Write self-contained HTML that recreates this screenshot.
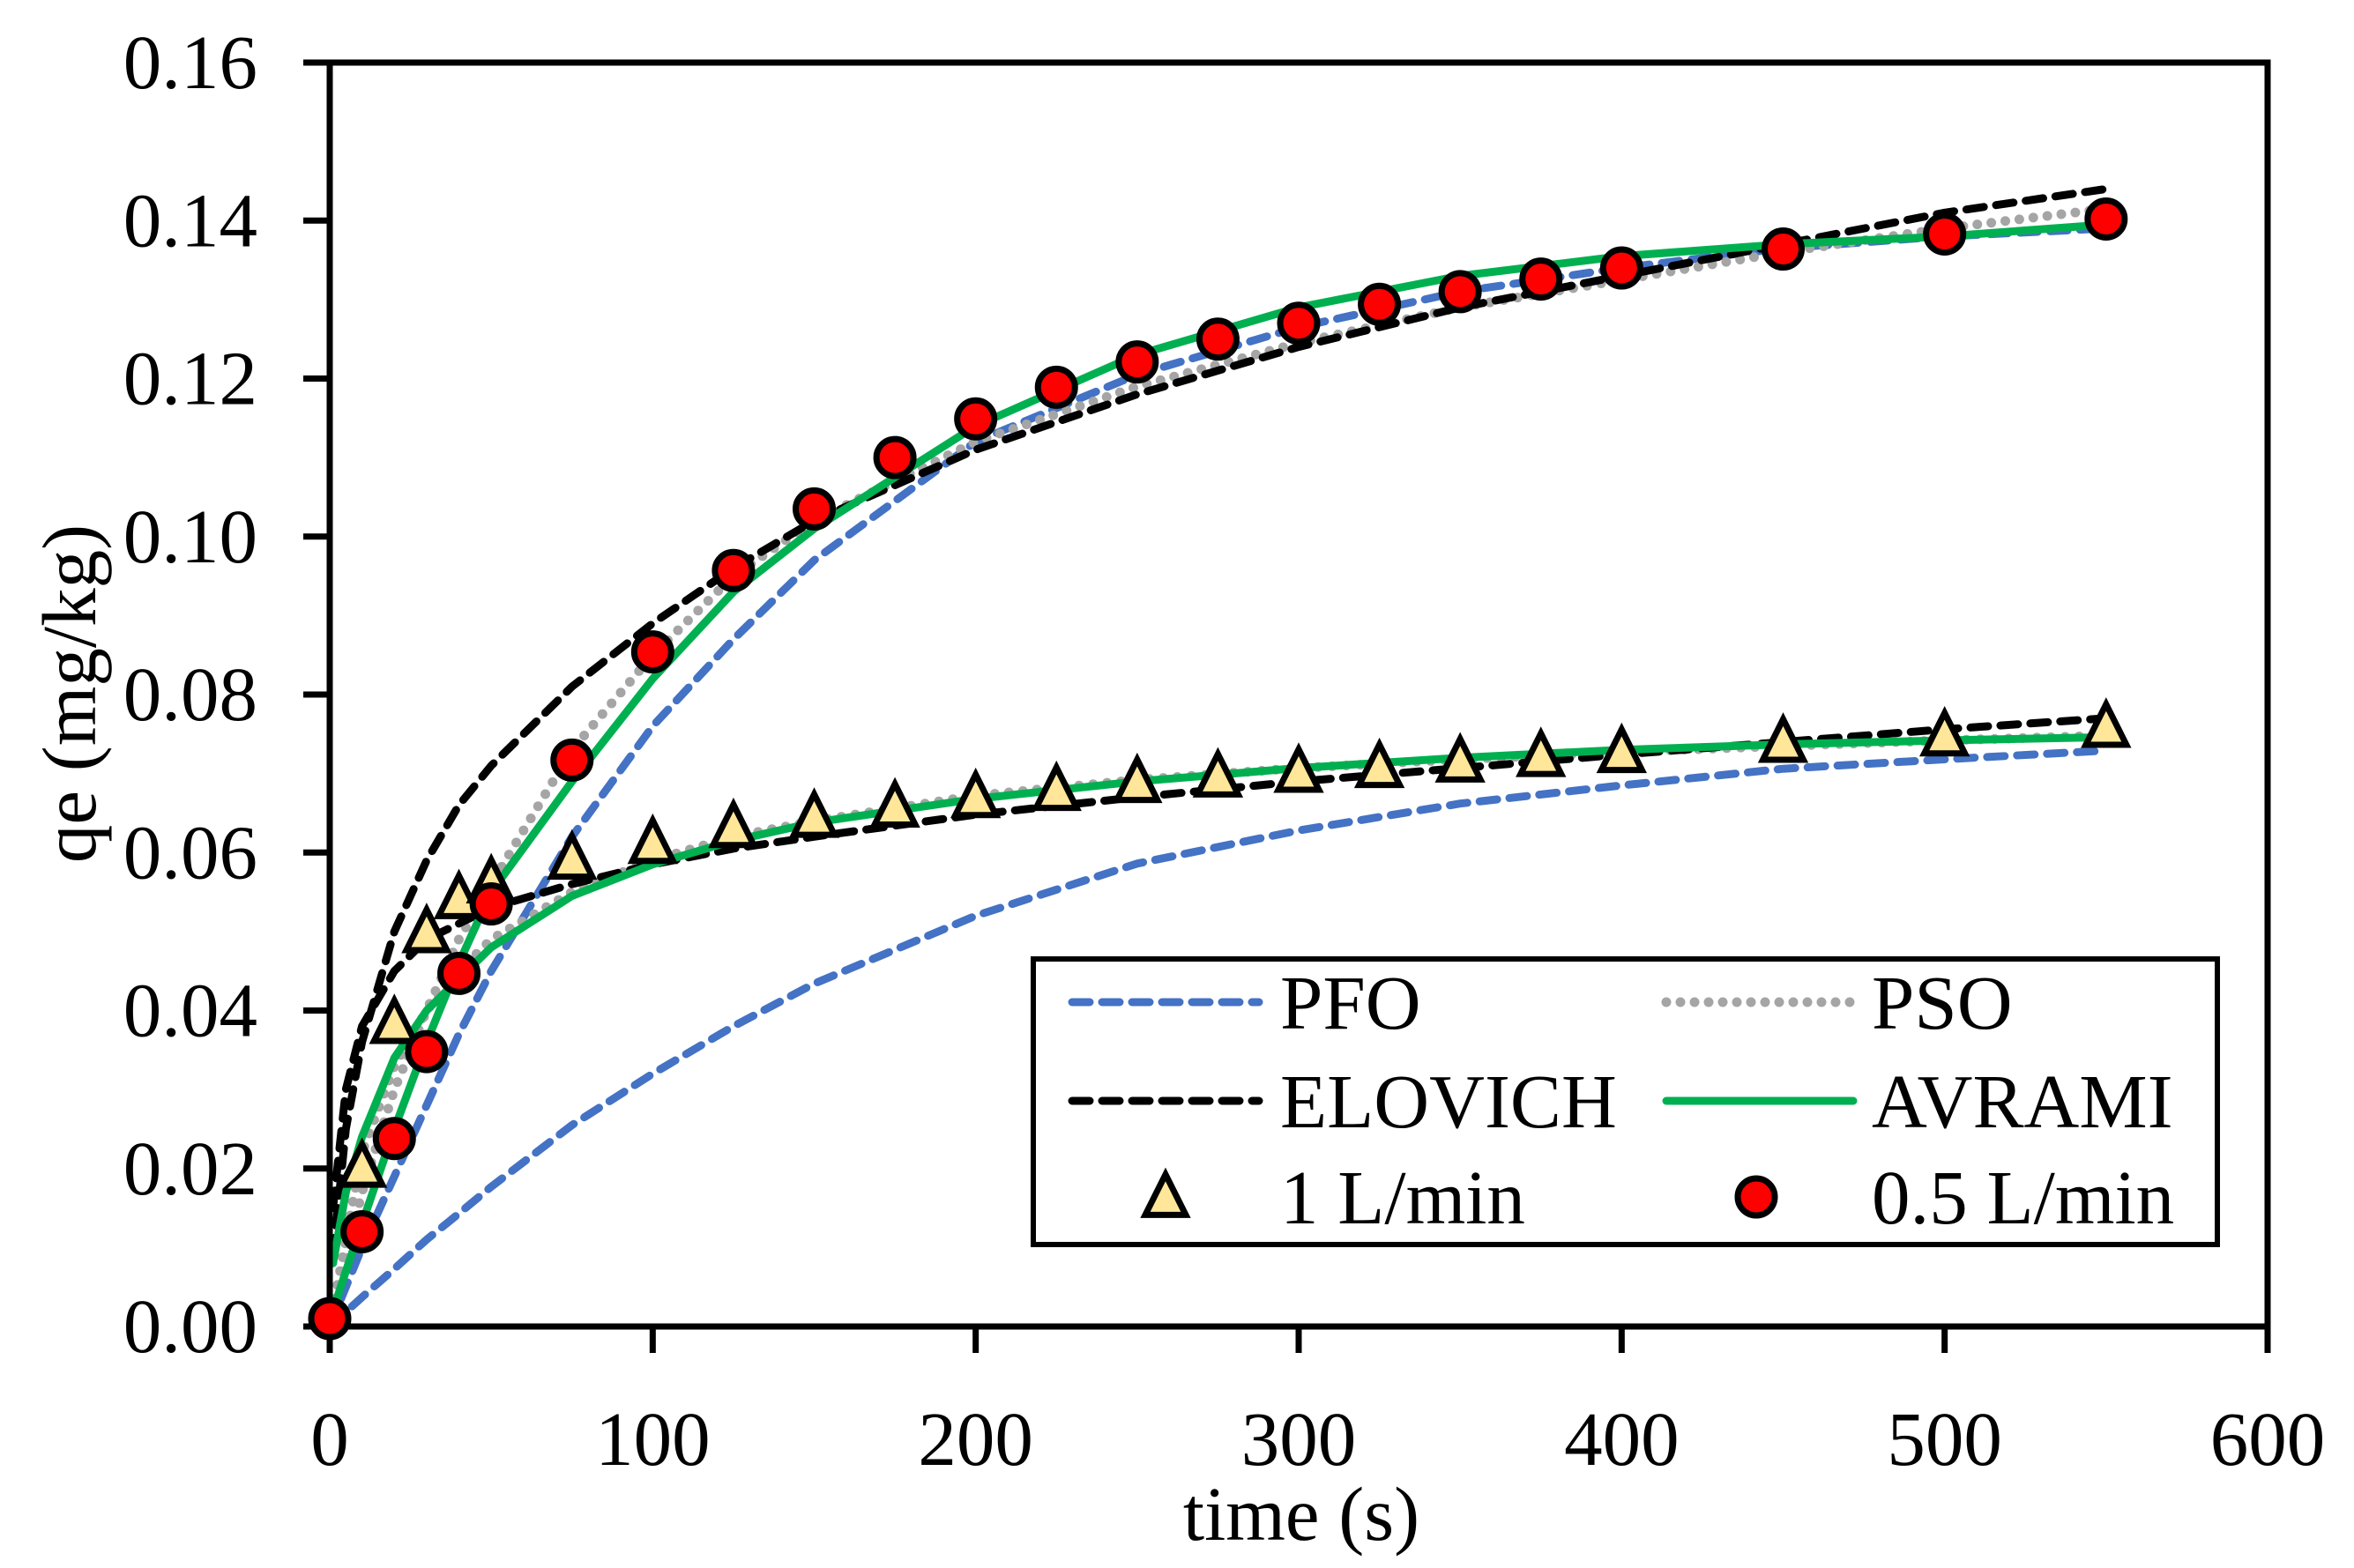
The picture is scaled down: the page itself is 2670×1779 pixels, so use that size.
<!DOCTYPE html>
<html><head><meta charset="utf-8"><style>
html,body{margin:0;padding:0;background:#fff;}
svg{display:block;font-family:"Liberation Serif",serif;}
</style></head><body>
<svg id="chart" width="2670" height="1779" viewBox="0 0 2670 1779" xmlns="http://www.w3.org/2000/svg">
<rect width="2670" height="1779" fill="#fff"/>
</svg>
<script>
const xTicks = [0,100,200,300,400,500,600];
const yTicks = [0,0.02,0.04,0.06,0.08,0.10,0.12,0.14,0.16];
const yTickLabels = ["0.00","0.02","0.04","0.06","0.08","0.10","0.12","0.14","0.16"];

const tRed = [0,10,20,30,40,50,75,100,125,150,175,200,225,250,275,300,325,350,375,400,450,500,550];
const qRed = [0.001,0.012,0.0238,0.0348,0.0447,0.0535,0.0717,0.0854,0.0957,0.1035,0.110,0.1149,0.1189,0.1221,0.125,0.127,0.1294,0.131,0.1326,0.134,0.1364,0.1383,0.1402];
const tTri = [10,20,30,40,50,75,100,125,150,175,200,225,250,275,300,325,350,375,400,450,500,550];
const qTri = [0.020,0.0382,0.0497,0.054,0.056,0.059,0.061,0.063,0.0643,0.0656,0.0668,0.0677,0.0687,0.0694,0.070,0.0706,0.0713,0.072,0.0725,0.0738,0.0746,0.0757];

const tFit = [0,10,20,30,40,50,75,100,125,150,200,250,300,350,400,450,500,550];
const pfoRed = [0,0.010,0.019,0.028,0.037,0.045,0.062,0.076,0.087,0.097,0.112,0.1205,0.1265,0.131,0.134,0.1365,0.138,0.139];
const pfoTri = [0,0.0037,0.0073,0.011,0.0143,0.0177,0.0255,0.032,0.038,0.0434,0.052,0.0586,0.0628,0.0662,0.0685,0.0706,0.0718,0.0729];
const psoRed = [0,0.017,0.030,0.040,0.049,0.056,0.073,0.085,0.095,0.102,0.112,0.119,0.1245,0.129,0.1325,0.136,0.139,0.1415];
const psoTri = [0,0.022,0.033,0.040,0.045,0.049,0.055,0.059,0.062,0.064,0.0672,0.0692,0.0707,0.0718,0.0727,0.0735,0.0742,0.0748];
const tElo = [1,5,10,20,30,40,50,75,100,125,150,200,250,300,350,400,450,500,550];
const eloRed = [0.009,0.025,0.036,0.050,0.059,0.066,0.071,0.081,0.089,0.096,0.102,0.111,0.118,0.124,0.129,0.133,0.137,0.141,0.144];
const eloTri = [0.015,0.030,0.038,0.045,0.049,0.051,0.053,0.0560,0.0585,0.0605,0.0620,0.0648,0.0670,0.0690,0.0707,0.0724,0.0740,0.0756,0.077];
const tAvr = [1,5,10,20,30,40,50,75,100,125,150,200,250,300,350,400,450,500,550];
const avrRed = [0.002,0.007,0.013,0.025,0.036,0.046,0.055,0.069,0.082,0.093,0.101,0.114,0.123,0.129,0.133,0.1355,0.137,0.138,0.1395];
const avrTri = [0.008,0.017,0.024,0.034,0.040,0.044,0.048,0.0545,0.0585,0.0615,0.0638,0.0668,0.069,0.0707,0.072,0.073,0.0737,0.0742,0.0746];

const X0=374, X1=2572, Y0=1505, Y1=71;
const sx = v => X0 + (v/600)*(X1-X0);
const sy = v => Y0 - (v/0.16)*(Y0-Y1);
const NS="http://www.w3.org/2000/svg";
const svg=document.getElementById('chart');
function mk(tag, attrs, parent){const e=document.createElementNS(NS,tag);for(const k in attrs)e.setAttribute(k,attrs[k]);(parent||svg).appendChild(e);return e;}

const FS=87;
xTicks.forEach((v,i)=>{
  let l=mk('line',{x1:sx(v),x2:sx(v),y1:Y0,y2:Y0+30,stroke:'#000','stroke-width':7});
  
  
  let t=mk('text',{x:sx(v),y:1662,'font-size':FS,'text-anchor':'middle'});
  t.textContent=String(v);
  
  
});
yTicks.forEach((v,i)=>{
  let l=mk('line',{x1:X0-30,x2:X0,y1:sy(v),y2:sy(v),stroke:'#000','stroke-width':7});
  
  
  let t=mk('text',{x:292,y:sy(v)+29,'font-size':FS,'text-anchor':'end'});
  t.textContent=yTickLabels[i];
  
  
});
let xt=mk('text',{x:1476,y:1747,'font-size':FS,'text-anchor':'middle'});
xt.textContent='time (s)';


let yt=mk('text',{x:0,y:0,'font-size':FS,'text-anchor':'middle',transform:'translate(108,787) rotate(-90)'});
yt.textContent='qe (mg/kg)';



const styles={
  pfo:{stroke:'#4472C4',dash:'20 14',w:9,cap:'round'},
  pso:{stroke:'#A5A5A5',dash:'0 16',w:11,cap:'round'},
  elo:{stroke:'#000',dash:'20 14',w:9,cap:'round'},
  avr:{stroke:'#00B050',dash:'',w:9,cap:'round'}
};
function line(ts,qs,st,name){
  const d=ts.map((t,i)=>(i?'L':'M')+sx(t).toFixed(1)+','+sy(qs[i]).toFixed(1)).join(' ');
  const p=mk('path',{d:d,fill:'none',stroke:st.stroke,'stroke-width':st.w,'stroke-dasharray':st.dash,'stroke-linecap':st.cap,'stroke-linejoin':'round'});
  
  
}
line(tFit,pfoTri,styles.pfo,'pfo-1lpm-line');
line(tFit,pfoRed,styles.pfo,'pfo-05lpm-line');
line(tFit,psoTri,styles.pso,'pso-1lpm-line');
line(tFit,psoRed,styles.pso,'pso-05lpm-line');
line(tElo,eloTri,styles.elo,'elovich-1lpm-line');
line(tElo,eloRed,styles.elo,'elovich-05lpm-line');
line(tAvr,avrTri,styles.avr,'avrami-1lpm-line');
line(tAvr,avrRed,styles.avr,'avrami-05lpm-line');

let fr=mk('rect',{x:X0,y:Y1,width:X1-X0,height:Y0-Y1,fill:'none',stroke:'#000','stroke-width':7});



function tri(cx,cy,parent){
  const s=23;
  return mk('polygon',{points:`${cx},${cy-s*1.2} ${cx-s},${cy+s*0.8} ${cx+s},${cy+s*0.8}`,fill:'#FFE699',stroke:'#000','stroke-width':7,'stroke-linejoin':'miter'},parent);
}
tTri.forEach((t,i)=>{
  const p=tri(sx(t),sy(qTri[i]));
  
  
});
tRed.forEach((t,i)=>{
  const c=mk('circle',{cx:sx(t),cy:sy(qRed[i]),r:21,fill:'#FF0000',stroke:'#000','stroke-width':7});
  
  
});

const lg=mk('g',{});


mk('rect',{x:1172,y:1088,width:1343,height:324,fill:'#fff',stroke:'#000','stroke-width':6},lg);
const rows=[1137,1249,1358];
const entries=[
 {n:'PFO',st:styles.pfo,c:0,r:0},{n:'PSO',st:styles.pso,c:1,r:0},
 {n:'ELOVICH',st:styles.elo,c:0,r:1},{n:'AVRAMI',st:styles.avr,c:1,r:1}
];
const lx=[1216,1890], tx=[1452,2123];
entries.forEach(e=>{
  const y=rows[e.r];
  const l=mk('line',{x1:lx[e.c],x2:lx[e.c]+212,y1:y,y2:y,stroke:e.st.stroke,'stroke-width':e.st.w,'stroke-dasharray':e.st.dash,'stroke-linecap':e.st.cap},lg);
  
  
  const t=mk('text',{x:tx[e.c],y:y+30,'font-size':FS},lg);
  t.textContent=e.n;
  
  
});
const lt=tri(1322,rows[2]+2,lg);


const lc=mk('circle',{cx:1992,cy:rows[2],r:21,fill:'#FF0000',stroke:'#000','stroke-width':7},lg);


[['1 L/min',tx[0]],['0.5 L/min',tx[1]]].forEach(a=>{
  const t=mk('text',{x:a[1],y:rows[2]+30,'font-size':FS},lg);
  t.textContent=a[0];
  
  
});
</script>
</body></html>
